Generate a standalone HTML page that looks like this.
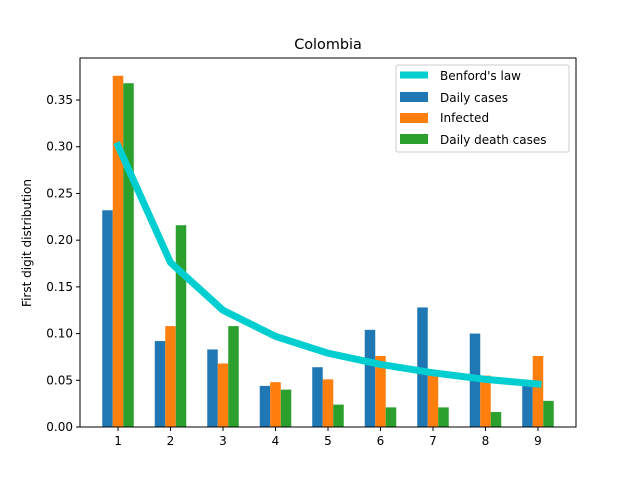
<!DOCTYPE html>
<html><head><meta charset="utf-8"><style>
body{margin:0;background:#fff}
svg{display:block;font-family:"DejaVu Sans","Liberation Sans",sans-serif}
</style></head><body>
<svg id="chart" width="640" height="480">
<rect width="640" height="480" fill="#fff"/>
<text x="328" y="49" text-anchor="middle" font-size="14.4">Colombia</text>
<g id="bars"></g>
<g id="line"></g>
<g id="axes"></g>
<text transform="translate(31,243) rotate(-90)" text-anchor="middle" font-size="12">First digit distribution</text>
<g>
<rect x="396" y="65" width="173" height="87" fill="#fff" fill-opacity="0.8" stroke="#ccc" rx="2"/>
<line x1="400" y1="75" x2="428" y2="75" stroke="#00ced1" stroke-width="7"/>
<text x="440" y="80" font-size="12">Benford's law</text>
<rect x="400" y="92" width="28" height="10" fill="#1f77b4"/>
<text x="440" y="102" font-size="12">Daily cases</text>
<rect x="400" y="113" width="28" height="10" fill="#ff7f0e"/>
<text x="440" y="122" font-size="12">Infected</text>
<rect x="400" y="134" width="28" height="10" fill="#2ca02c"/>
<text x="440" y="144" font-size="12">Daily death cases</text>
</g>
</svg>
<script>
const digits=[1,2,3,4,5,6,7,8,9];
const dailyCases=[0.232,0.092,0.083,0.044,0.064,0.104,0.128,0.100,0.046];
const infected=[0.376,0.108,0.068,0.048,0.051,0.076,0.058,0.055,0.076];
const dailyDeaths=[0.368,0.216,0.108,0.040,0.024,0.021,0.021,0.016,0.028];
const benford=[0.301,0.176,0.125,0.097,0.079,0.067,0.058,0.051,0.046];
const yTicks=[0,0.05,0.10,0.15,0.20,0.25,0.30,0.35];
const yTickLabels=["0.00","0.05","0.10","0.15","0.20","0.25","0.30","0.35"];
const NS="http://www.w3.org/2000/svg";
const L=80,R=576,T=58,B=427;
const xMin=0.276,xMax=9.724,yMax=0.395;
const xs=v=>L+(v-xMin)/(xMax-xMin)*(R-L);
const ys=v=>B-v/yMax*(B-T);
function mk(tag,attrs,parent){const e=document.createElementNS(NS,tag);for(const k in attrs)e.setAttribute(k,attrs[k]);parent.appendChild(e);return e;}
const bars=document.getElementById('bars');
const series=[[dailyCases,'#1f77b4',-0.2,'daily-cases'],[infected,'#ff7f0e',0,'infected'],[dailyDeaths,'#2ca02c',0.2,'daily-death']];
series.forEach(([vals,col,off,nm])=>{
 vals.forEach((v,i)=>{
  const x0=xs(digits[i]+off-0.1),x1=xs(digits[i]+off+0.1);
  const r=mk('rect',{x:x0,y:ys(v),width:x1-x0,height:B-ys(v),fill:col},bars);
  
  
 });
});
const lg=document.getElementById('line');
const pl=mk('polyline',{points:benford.map((v,i)=>xs(digits[i])+','+ys(v)).join(' '),fill:'none',stroke:'#00ced1','stroke-width':7,'stroke-linejoin':'round','stroke-linecap':'square'},lg);


const ax=document.getElementById('axes');
const fr=mk('rect',{x:L,y:T,width:R-L,height:B-T,fill:'none',stroke:'#000','stroke-width':1},ax);


digits.forEach(d=>{
 const x=xs(d);
 mk('line',{x1:x,y1:B,x2:x,y2:B+4,stroke:'#000'},ax);
 const t=mk('text',{x:x,y:B+18,'text-anchor':'middle','font-size':12},ax);
 t.textContent=d;
 
 
});
yTicks.forEach((v,i)=>{
 const y=ys(v);
 mk('line',{x1:L-4,y1:y,x2:L,y2:y,stroke:'#000'},ax);
 const t=mk('text',{x:L-7,y:y+4,'text-anchor':'end','font-size':12},ax);
 t.textContent=yTickLabels[i];
 
 
});
</script>
</body></html>
